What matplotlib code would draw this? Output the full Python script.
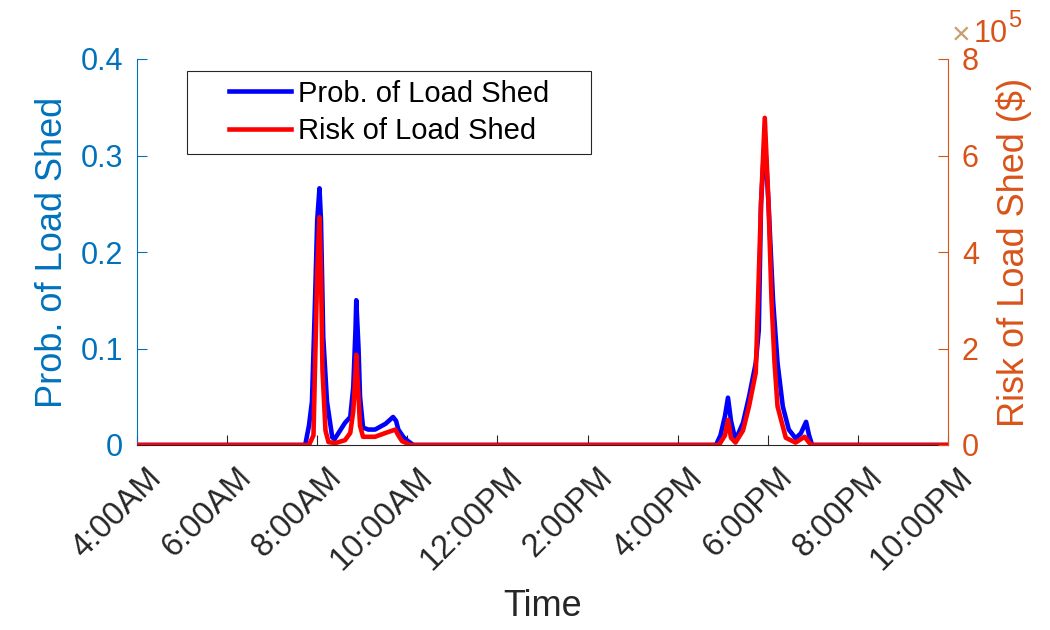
import matplotlib
matplotlib.use("Agg")
import matplotlib.pyplot as plt
import matplotlib.transforms as mtransforms
from matplotlib.legend_handler import HandlerLine2D
import numpy as np

plt.rcParams['font.family'] = ['Liberation Sans', 'DejaVu Sans']

# ---- data (time in minutes since midnight) ----
prob_t = [240, 464, 469, 473, 477, 480, 483, 485, 488, 493, 500, 503, 508, 517, 524,
          528, 531, 532, 535, 537, 541, 548, 557, 571, 581, 585, 588, 595, 601, 608,
          1011, 1017, 1023, 1027, 1031, 1037, 1047, 1055, 1064, 1068, 1071, 1076, 1081,
          1087, 1093, 1100, 1108, 1117, 1124, 1131, 1135, 1139, 1320]
prob_v = [0, 0, 0.02, 0.045, 0.147, 0.233, 0.266, 0.233, 0.112, 0.045, 0.008, 0.006,
          0.012, 0.023, 0.029, 0.06, 0.12, 0.150, 0.10, 0.05, 0.018, 0.016, 0.016, 0.022,
          0.029, 0.025, 0.016, 0.008, 0.004, 0,
          0, 0.01, 0.03, 0.049, 0.025, 0.005, 0.023, 0.05, 0.085, 0.119, 0.25, 0.32, 0.25,
          0.15, 0.085, 0.040, 0.016, 0.007, 0.012, 0.024, 0.01, 0, 0]

risk_t = [240, 469, 475, 477, 480, 483, 485, 487, 491, 495, 504, 517, 524, 528, 531,
          532, 535, 537, 541, 557, 571, 584, 588, 593, 604,
          1015, 1023, 1027, 1031, 1037, 1047, 1055, 1064, 1067, 1071, 1076, 1081, 1085,
          1089, 1093, 1104, 1117, 1129, 1135, 1139, 1320]
risk_v = [0, 0, 0.2e5, 1.55e5, 3.6e5, 4.72e5, 3.6e5, 1.55e5, 0.3e5, 0.06e5, 0.04e5,
          0.1e5, 0.25e5, 0.7e5, 1.5e5, 1.87e5, 1.0e5, 0.4e5, 0.17e5, 0.17e5, 0.25e5,
          0.32e5, 0.2e5, 0.08e5, 0,
          0, 0.2e5, 0.52e5, 0.15e5, 0.05e5, 0.3e5, 0.8e5, 1.5e5, 3.0e5, 5.0e5, 6.78e5,
          5.0e5, 3.0e5, 1.7e5, 0.8e5, 0.15e5, 0.05e5, 0.17e5, 0.05e5, 0, 0]

xticks_h = [4, 6, 8, 10, 12, 14, 16, 18, 20, 22]
xtick_labels = ['4:00AM', '6:00AM', '8:00AM', '10:00AM', '12:00PM', '2:00PM',
                '4:00PM', '6:00PM', '8:00PM', '10:00PM']
left_ticks = [0, 0.1, 0.2, 0.3, 0.4]
left_labels = ['0', '0.1', '0.2', '0.3', '0.4']
right_ticks = [0, 2e5, 4e5, 6e5, 8e5]
right_labels = ['0', '2', '4', '6', '8']

C_LEFT = '#0072BD'
C_RIGHT = '#D95319'
C_AX = '#262626'

fig = plt.figure(figsize=(10.5, 6.3), dpi=100)
ax = fig.add_axes([137/1050, 1 - 445/630, (948-137)/1050, (445-59)/630])
ax2 = ax.twinx()

ph = np.array(prob_t) / 60.0
rh = np.array(risk_t) / 60.0
l1, = ax.plot(ph, prob_v, color='#0000FF', lw=3.3, label='Prob. of Load Shed', zorder=2)
l2, = ax2.plot(rh, risk_v, color='#FF0000', lw=3.3, label='Risk of Load Shed', zorder=3)

ax.set_xlim(4, 22)
ax.set_ylim(0, 0.4)
ax2.set_ylim(0, 8e5)

for a in (ax, ax2):
    a.spines['top'].set_visible(False)
ax.spines['left'].set_color(C_LEFT)
ax.spines['right'].set_visible(False)
ax.spines['bottom'].set_color(C_AX)
ax2.spines['left'].set_visible(False)
ax2.spines['bottom'].set_visible(False)
ax2.spines['right'].set_color(C_RIGHT)

ax.tick_params(axis='x', direction='in', length=7, width=0.8, color=C_AX, pad=8)
ax.tick_params(axis='y', direction='in', length=7, width=0.8, color=C_LEFT, pad=10)
ax2.tick_params(axis='y', direction='in', length=7, width=0.8, color=C_RIGHT, pad=10)

ax.set_xticks(xticks_h)
ax.set_xticklabels(xtick_labels, rotation=45, ha='right', va='center',
                   rotation_mode='anchor', fontsize=23.5, color=C_AX)
offset = mtransforms.ScaledTranslation(20/100, -17/100, fig.dpi_scale_trans)
for lab in ax.get_xticklabels():
    lab.set_transform(lab.get_transform() + offset)

ax.set_yticks(left_ticks)
ax.set_yticklabels(left_labels, fontsize=22, color=C_LEFT)
ax2.set_yticks(right_ticks)
ax2.set_yticklabels(right_labels, fontsize=22, color=C_RIGHT)

ax.set_ylabel('Prob. of Load Shed', fontsize=26, color=C_LEFT, va='center')
ax.yaxis.set_label_coords((53-137)/811, 0.5)
ax2.set_ylabel('Risk of Load Shed ($)', fontsize=26, color=C_RIGHT, va='center')
ax2.yaxis.set_label_coords((1014-137)/811, 0.5)
ax.set_xlabel('Time', fontsize=26, color=C_AX, va='center')
ax.xaxis.set_label_coords(0.5, (445-607)/386)

fig.text(952/1050, 1 - 36/630, '×', fontsize=23, color='#C8A070', ha='left', va='center')
fig.text(974/1050, 1 - 34/630, '10', fontsize=22, color=C_RIGHT, ha='left', va='center')
fig.text(1008/1050, 1 - 21/630, '5', fontsize=17, color=C_RIGHT, ha='left', va='center')

fs_px = 21 * 100 / 72
hm = {l1: HandlerLine2D(xpad=33/fs_px), l2: HandlerLine2D(xpad=33/fs_px)}
leg = ax2.legend(handles=[l1, l2], loc='center', handler_map=hm,
                 bbox_to_anchor=(187/1050, 1 - 154/630, (591-187)/1050, (152-69)/630),
                 bbox_transform=fig.transFigure, mode='expand',
                 fontsize=21, frameon=True, fancybox=False, framealpha=1,
                 edgecolor='#262626', handlelength=95/fs_px, borderpad=0.3,
                 labelspacing=0.33, handletextpad=0.24, borderaxespad=0)
leg.get_frame().set_linewidth(0.8)
leg.set_zorder(10)

fig.savefig('out.png', dpi=100)
